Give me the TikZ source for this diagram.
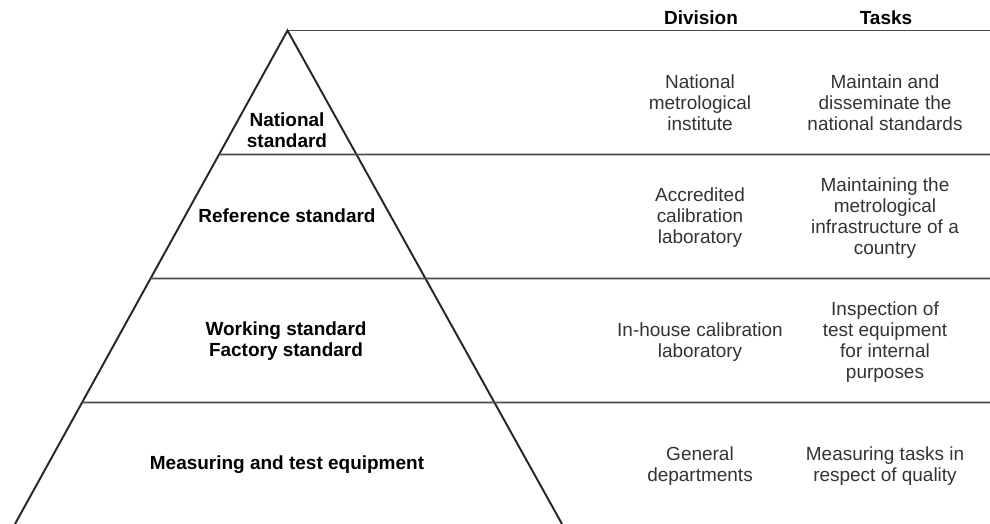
\documentclass[tikz,border=0pt]{standalone}
\usepackage{fontspec}
\setmainfont{Liberation Sans}
\usetikzlibrary{calc}

\tikzset{
    side line/.style={line width=1.1pt, black!85},
    row line/.style={line width=1pt, black!70},
    level/.style={font=\bfseries\fontsize{10.8}{12}\selectfont, align=center},
    cell/.style={font=\fontsize{10.8}{12}\selectfont, align=center, text=black!80},
    head/.style={font=\bfseries\fontsize{10.8}{12}\selectfont}
}

\begin{document}
\begin{tikzpicture}
    \useasboundingbox (0,0) rectangle (19.8,10.48);

    % Pyramid
    \coordinate (apex) at (5.75,9.87);
    \coordinate (bl) at (0.30,0);
    \coordinate (br) at (11.24,0);
    \draw[side line] (bl) -- (apex) -- (br);

    % Top line and row separators
    \draw[row line] (apex) -- (19.8,9.87);
    \foreach \k in {1,2,3} {
        \draw[row line] ($(apex)!{\k*0.2513}!(bl)$) -- (19.8,{9.87-\k*2.48});
    }

    % Column heads
    \node[head] (divhead) at (14.02,10.12) {Division};
    \node[head] (taskhead) at (17.72,10.12) {Tasks};

    % Levels of the pyramid
    \node[level] (national) at (5.74,7.88) {National\\standard};
    \node[level] (reference) at (5.74,6.16) {Reference standard};
    \node[level] (working) at (5.72,3.66) {Working standard\\Factory standard};
    \node[level] (measuring) at (5.74,1.18) {Measuring and test equipment};

    % Division column
    \node[cell] (div1) at (14.0,8.42) {National\\metrological\\institute};
    \node[cell] (div2) at (14.0,6.12) {Accredited\\calibration\\laboratory};
    \node[cell] (div3) at (14.0,3.64) {In-house calibration\\laboratory};
    \node[cell] (div4) at (14.0,1.16) {General\\departments};

    % Tasks column
    \node[cell] (task1) at (17.7,8.42) {Maintain and\\disseminate the\\national standards};
    \node[cell] (task2) at (17.7,6.12) {Maintaining the\\metrological\\infrastructure of a\\country};
    \node[cell] (task3) at (17.7,3.64) {Inspection of\\test equipment\\for internal\\purposes};
    \node[cell] (task4) at (17.7,1.16) {Measuring tasks in\\respect of quality};
\end{tikzpicture}
\end{document}
